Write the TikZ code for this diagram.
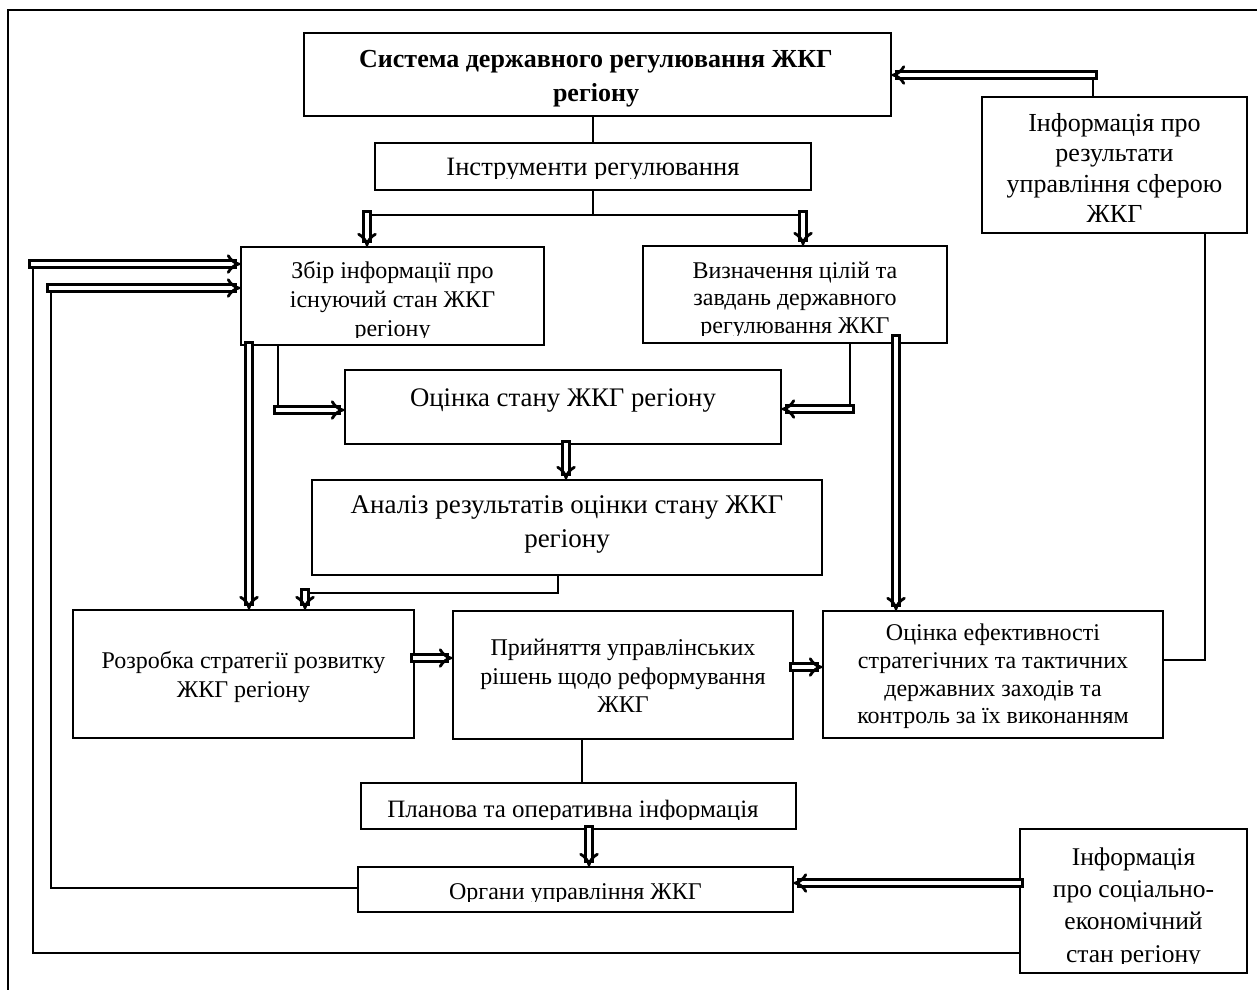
\documentclass[tikz,border=0pt]{standalone}
\usepackage{fontspec}
\setmainfont{Liberation Serif}
\usetikzlibrary{arrows.meta}
\tikzset{
  box/.style={draw, line width=1.3pt, inner sep=0pt},
  txt/.style={align=center, inner sep=0pt},
  ln/.style={line width=1.2pt},
  dbl/.style={double, double distance=3.5pt, line width=2.8pt, line cap=rect, -{Implies[length=9pt, width=18pt]}},
}
\newcommand{\fs}[2]{\fontsize{#1}{#2}\selectfont}
\begin{document}
\begin{tikzpicture}[x=1pt,y=-1pt]
\useasboundingbox (0,0) rectangle (1257,989);
\clip (0,0) rectangle (1257,989);
\draw[line width=2.8pt] (8,10) rectangle (1275,1005);
% boxes
\node[box, minimum width=587pt, minimum height=83pt] (sys) at (597.5,74.5) {};
\node[box, minimum width=436pt, minimum height=47pt] (instr) at (593,166.5) {};
\node[box, minimum width=303pt, minimum height=98pt] (zbir) at (392.5,296) {};
\node[box, minimum width=304pt, minimum height=97pt] (vyzn) at (795,294.5) {};
\node[box, minimum width=436pt, minimum height=74pt] (ots) at (563,407) {};
\node[box, minimum width=510pt, minimum height=95pt] (anal) at (567,527.5) {};
\node[box, minimum width=341pt, minimum height=128pt] (rozr) at (243.5,674) {};
\node[box, minimum width=340pt, minimum height=128pt] (pryn) at (623,675) {};
\node[box, minimum width=340pt, minimum height=127pt] (efek) at (993,674.5) {};
\node[box, minimum width=435pt, minimum height=46pt] (plan) at (578.5,806) {};
\node[box, minimum width=435pt, minimum height=45pt] (org) at (575.5,889.5) {};
\node[box, minimum width=265pt, minimum height=136pt] (inf1) at (1114.5,165) {};
\node[box, minimum width=227pt, minimum height=144pt] (inf2) at (1133.5,901) {};
% texts
\node[txt, font=\bfseries\fs{26}{34}] (tsys) at (596,79) {Система державного регулювання ЖКГ\\регіону};
\begin{scope}
\clip (375,143) rectangle (811,178);
\node[txt, font=\fs{26.5}{31}] (tinstr) at (593,170) {Інструменти регулювання};
\end{scope}
\begin{scope}
\clip (241,247) rectangle (544,337);
\node[txt, font=\fs{24}{29}] (tzbir) at (392.5,301.5) {Збір інформації про\\існуючий стан ЖКГ\\регіону};
\end{scope}
\begin{scope}
\clip (643,246) rectangle (947,335);
\node[txt, font=\fs{24}{27.5}] (tvyzn) at (795,300) {Визначення цілій та\\завдань державного\\регулювання ЖКГ};
\end{scope}
\node[txt, font=\fs{26.8}{31}] (tots) at (563,401) {Оцінка стану ЖКГ регіону};
\node[txt, font=\fs{27}{34}] (tanal) at (567,524.5) {Аналіз результатів оцінки стану ЖКГ\\регіону};
\node[txt, font=\fs{24}{29}] (trozr) at (243.5,677) {Розробка стратегії розвитку\\ЖКГ регіону};
\node[txt, font=\fs{24}{28.5}] (tpryn) at (623,676) {Прийняття управлінських\\рішень щодо реформування\\ЖКГ};
\node[txt, font=\fs{24}{27.7}] (tefek) at (993,676.5) {Оцінка ефективності\\стратегічних та тактичних\\державних заходів та\\контроль за їх виконанням};
\begin{scope}
\clip (361,783) rectangle (796,819);
\node[txt, font=\fs{25}{29}] (tplan) at (573,811) {Планова та оперативна інформація};
\end{scope}
\begin{scope}
\clip (358,867) rectangle (793,901);
\node[txt, font=\fs{24}{29}] (torg) at (575.5,894) {Органи управління ЖКГ};
\end{scope}
\node[txt, font=\fs{26}{30.5}] (tinf1) at (1114.5,168) {Інформація про\\результати\\управління сферою\\ЖКГ};
\begin{scope}
\clip (1020,829) rectangle (1247,963);
\node[txt, font=\fs{25.5}{32.3}] (tinf2) at (1133.5,907.5) {Інформація\\про соціально-\\економічний\\стан регіону};
\end{scope}
% connectors
\coordinate (split) at (593,215);
\coordinate (sl) at (367,215);
\coordinate (sr) at (803,215);
\draw[ln] (instr.north |- sys.south) -- (instr.north);
\draw[ln] (instr.south) -- (split);
\draw[ln] (sl) -- (sr);
\draw[dbl] (sl) -- (sl |- zbir.north);
\draw[dbl] (sr) -- (sr |- vyzn.north);
\coordinate (i1t) at (1093,75);
\draw[ln] (inf1.north -| i1t) -- (i1t);
\draw[dbl] (i1t) -- (i1t -| sys.east);
\coordinate (er) at (1205,660);
\draw[ln] (er -| efek.east) -- (er) -- (er |- inf1.south);
\draw[dbl] (zbir.south -| 249,0) -- (rozr.north -| 249,0);
\coordinate (zb) at (278,410);
\draw[ln] (zbir.south -| zb) -- (zb);
\draw[dbl] (zb) -- (ots.west |- zb);
\coordinate (vb) at (850,409);
\draw[ln] (vyzn.south -| vb) -- (vb);
\draw[dbl] (vb) -- (ots.east |- vb);
\draw[dbl] ([yshift=5pt]vyzn.south -| 896,0) -- (efek.north -| 896,0);
\draw[dbl] (ots.south -| 566,0) -- (anal.north -| 566,0);
\coordinate (ab) at (305,593);
\draw[ln] (anal.south -| 558,0) |- (ab);
\draw[dbl] (ab) -- (rozr.north -| ab);
\draw[dbl] (rozr.east |- 0,658) -- (pryn.west |- 0,658);
\draw[dbl] (pryn.east |- 0,667) -- (efek.west |- 0,667);
\draw[ln] (pryn.south -| 582,0) -- (plan.north -| 582,0);
\draw[dbl] (plan.south -| 589,0) -- (org.north -| 589,0);
\draw[dbl] (inf2.west |- 0,883) -- (org.east |- 0,883);
\coordinate (l1) at (51,888);
\coordinate (l1t) at (51,288);
\draw[ln] (org.west |- l1) -- (l1) -- (l1t);
\draw[dbl] (l1t) -- (zbir.west |- l1t);
\coordinate (l2) at (33,953);
\coordinate (l2t) at (33,264);
\draw[ln] (inf2.west |- l2) -- (l2) -- (l2t);
\draw[dbl] (l2t) -- (zbir.west |- l2t);
\end{tikzpicture}
\end{document}
